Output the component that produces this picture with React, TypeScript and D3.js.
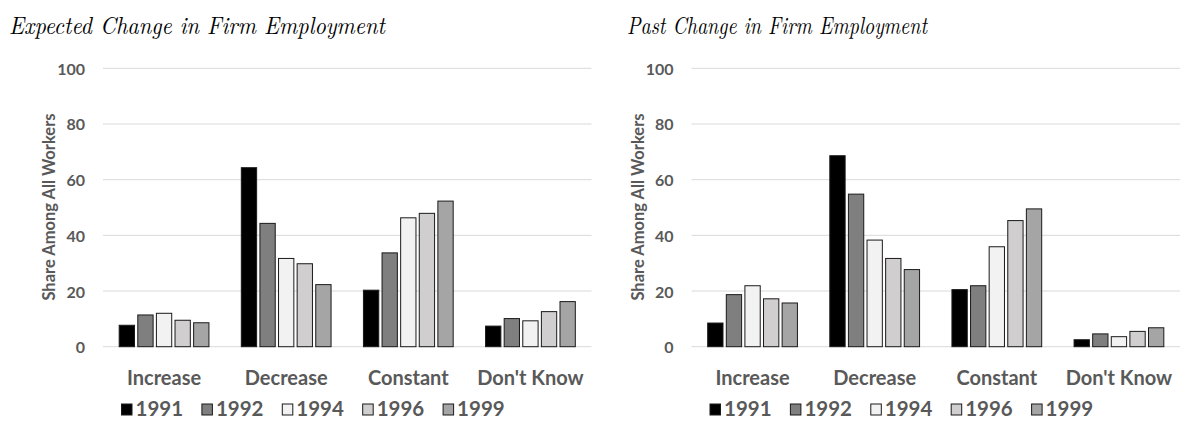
import React from "react";
import * as d3 from "d3";

const categories = ["Increase", "Decrease", "Constant", "Don't Know"];
const years = ["1991", "1992", "1994", "1996", "1999"];
const yTicks = [0, 20, 40, 60, 80, 100];

// values[year][category]
const expected1991 = [7.7, 64.3, 20.3, 7.4];
const expected1992 = [11.4, 44.3, 33.7, 10.1];
const expected1994 = [12.0, 31.7, 46.3, 9.3];
const expected1996 = [9.5, 29.8, 47.9, 12.6];
const expected1999 = [8.6, 22.3, 52.3, 16.2];

const past1991 = [8.5, 68.6, 20.5, 2.5];
const past1992 = [18.7, 54.8, 21.9, 4.6];
const past1994 = [21.9, 38.3, 35.9, 3.6];
const past1996 = [17.2, 31.7, 45.3, 5.5];
const past1999 = [15.7, 27.7, 49.5, 6.8];

const expectedSeries = [expected1991, expected1992, expected1994, expected1996, expected1999];
const pastSeries = [past1991, past1992, past1994, past1996, past1999];

const colors = ["#000000", "#7f7f7f", "#f2f2f2", "#d0cece", "#a5a5a5"];

const W = 1184;
const H = 423;
const LABEL_FONT = "Lato, Carlito, Calibri, 'Open Sans', sans-serif";
const TEXT_COLOR = "#595959";

type PanelProps = {
  title: string;
  titleLen: number;
  titleX: number;
  gx0: number;
  series: number[][];
};

function Panel({ title, titleLen, titleX, gx0, series }: PanelProps) {
  const gx1 = gx0 + 488.5;
  const y = d3.scaleLinear().domain([0, 100]).range([346.7, 68.3]);
  const x0 = d3.scaleBand<string>().domain(categories).range([gx0, gx1]).padding(0);
  const x1 = d3
    .scaleBand<string>()
    .domain(years)
    .range([0, x0.bandwidth()])
    .paddingInner(0.177)
    .paddingOuter(0.87);
  const legendX = d3
    .scalePoint<string>()
    .domain(years)
    .range([gx0 + 18.5, gx0 + 18.5 + 4 * 80.4]);

  return (
    <g>
      <text
        x={titleX}
        y={34}
        fontFamily="'Latin Modern Roman', 'CMU Serif', 'DejaVu Serif', 'Liberation Serif', serif"
        fontStyle="italic"
        fontSize={25}
        textLength={titleLen}
        lengthAdjust="spacingAndGlyphs"
        fill="#000"
      >
        {title}
      </text>
      {yTicks.map((t) => (
        <g key={t}>
          <line
            x1={gx0}
            x2={gx1}
            y1={y(t)}
            y2={y(t)}
            stroke="#d9d9d9"
            strokeWidth={1}
          />
          <text
            x={gx0 - 18}
            y={y(t)}
            textAnchor="end"
            dominantBaseline="central"
            fontFamily={LABEL_FONT}
            fontWeight="bold"
            fontSize={16}
            fill={TEXT_COLOR}
          >
            {t}
          </text>
        </g>
      ))}
      <text
        transform={`translate(${gx0 - 54},${207}) rotate(-90)`}
        textAnchor="middle"
        dominantBaseline="central"
        fontFamily={LABEL_FONT}
        fontWeight="bold"
        fontSize={16.5}
        fill={TEXT_COLOR}
      >
        Share Among All Workers
      </text>
      {categories.map((c, ci) => (
        <g key={c} transform={`translate(${x0(c)},0)`}>
          {years.map((yr, yi) => {
            const v = series[yi][ci];
            return (
              <rect
                key={yr}
                x={x1(yr)}
                y={y(v)}
                width={x1.bandwidth()}
                height={y(0) - y(v)}
                fill={colors[yi]}
                stroke="#1a1a1a"
                strokeWidth={1}
              />
            );
          })}
          <text
            x={x0.bandwidth() / 2}
            y={385}
            textAnchor="middle"
            fontFamily={LABEL_FONT}
            fontWeight="bold"
            fontSize={20}
            fill={TEXT_COLOR}
          >
            {c}
          </text>
        </g>
      ))}
      {years.map((yr, yi) => (
        <g key={yr} transform={`translate(${legendX(yr)},0)`}>
          <rect x={0} y={404} width={10.5} height={11} fill={colors[yi]} stroke="#1a1a1a" strokeWidth={1} />
          <text
            x={14}
            y={415.5}
            fontFamily={LABEL_FONT}
            fontWeight="bold"
            fontSize={20.5}
            fill={TEXT_COLOR}
          >
            {yr}
          </text>
        </g>
      ))}
    </g>
  );
}

export default function App() {
  return (
    <svg
      width={W}
      height={H}
      style={{ position: "absolute", left: 0, top: 0, display: "block", background: "#fff" }}
    >
      <rect x={0} y={0} width={W} height={H} fill="#fff" />
      <Panel
        title="Expected Change in Firm Employment"
        titleLen={376}
        titleX={9}
        gx0={103}
        series={expectedSeries}
      />
      <Panel
        title="Past Change in Firm Employment"
        titleLen={300}
        titleX={627}
        gx0={691.5}
        series={pastSeries}
      />
    </svg>
  );
}
